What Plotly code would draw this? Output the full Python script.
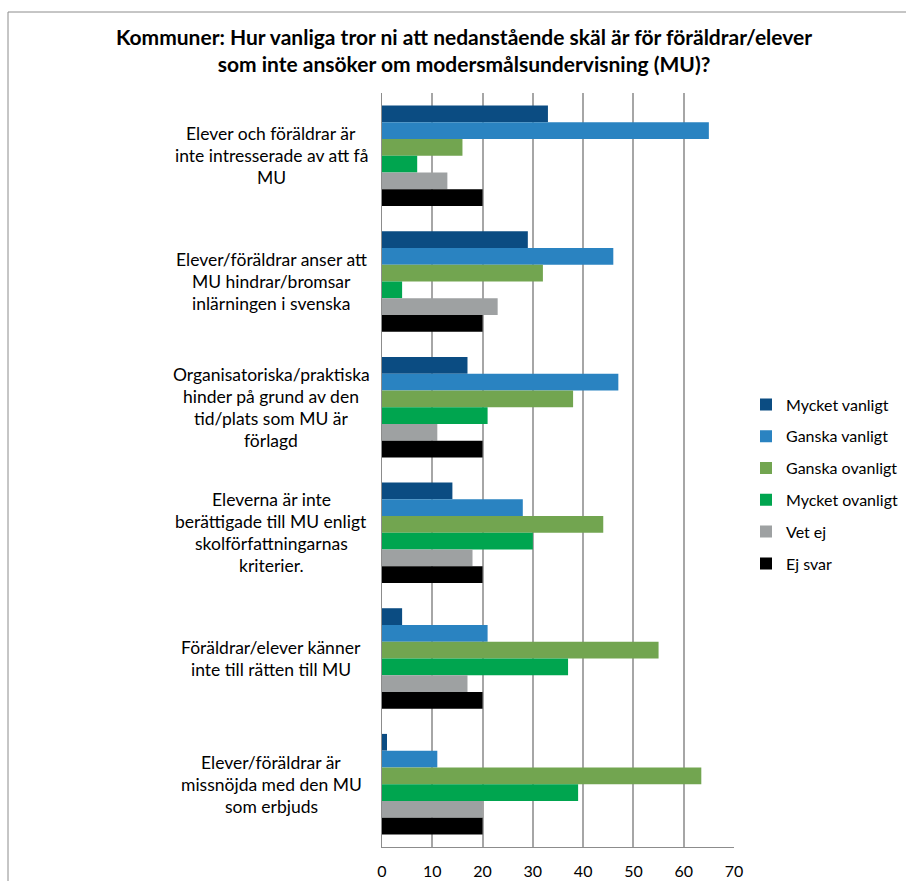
import plotly.graph_objects as go

# Survey categories (top to bottom) and their label lines
categories = [
    "Elever och föräldrar är inte intresserade av att få MU",
    "Elever/föräldrar anser att MU hindrar/bromsar inlärningen i svenska",
    "Organisatoriska/praktiska hinder på grund av den tid/plats som MU är förlagd",
    "Eleverna är inte berättigade till MU enligt skolförfattningarnas kriterier.",
    "Föräldrar/elever känner inte till rätten till MU",
    "Elever/föräldrar är missnöjda med den MU som erbjuds",
]
category_lines = [
    ["Elever och föräldrar är", "inte intresserade av att få", "MU"],
    ["Elever/föräldrar anser att", "MU hindrar/bromsar", "inlärningen i svenska"],
    ["Organisatoriska/praktiska", "hinder på grund av den", "tid/plats som MU är", "förlagd"],
    ["Eleverna är inte", "berättigade till MU enligt", "skolförfattningarnas", "kriterier."],
    ["Föräldrar/elever känner", "inte till rätten till MU"],
    ["Elever/föräldrar är", "missnöjda med den MU", "som erbjuds"],
]

series_names = ["Mycket vanligt", "Ganska vanligt", "Ganska ovanligt",
                "Mycket ovanligt", "Vet ej", "Ej svar"]
mycket_vanligt = [33, 29, 17, 14, 4, 1]
ganska_vanligt = [65, 46, 47, 28, 21, 11]
ganska_ovanligt = [16, 32, 38, 44, 55, 63.5]
mycket_ovanligt = [7, 4, 21, 30, 37, 39]
vet_ej = [13, 23, 11, 18, 17, 20]
ej_svar = [20, 20, 20, 20, 20, 20]
series_values = [mycket_vanligt, ganska_vanligt, ganska_ovanligt,
                 mycket_ovanligt, vet_ej, ej_svar]
series_colors = ["#0B4C82", "#2A83C1", "#72A550", "#00A54F", "#9EA1A2", "#000000"]

x_ticks = [0, 10, 20, 30, 40, 50, 60, 70]

FONT = "Lato"
W, H = 906, 881
L, R, T, B = 382, 172, 93, 34
PW, PH = W - L - R, H - T - B

fig = go.Figure()
for name, vals, col in zip(series_names, series_values, series_colors):
    fig.add_trace(go.Bar(
        y=categories, x=vals, name=name, orientation="h", legendgroup=name,
        marker=dict(color=col, line=dict(width=0)),
    ))

# Category labels as centred multi-line text left of the axis
LINE_H = 22
annotations = []
for cat, lines in zip(categories, category_lines):
    n = len(lines)
    for i, line in enumerate(lines):
        offset = ((n - 1) / 2 - i) * LINE_H
        annotations.append(dict(
            text=line, xref="paper", yref="y", x=(271 - L) / PW, y=cat,
            xanchor="center", yanchor="middle", yshift=offset,
            showarrow=False, font=dict(family=FONT, size=17.5, color="#000000"),
        ))

fig.update_layout(
    width=W, height=H,
    margin=dict(l=L, r=R, t=T, b=B, pad=0, autoexpand=False),
    paper_bgcolor="white", plot_bgcolor="white",
    barmode="group", bargap=0.2, bargroupgap=0,
    font=dict(family=FONT, size=16, color="#000000"),
    title=dict(
        text="<b>Kommuner: Hur vanliga tror ni att nedanstående skäl är för föräldrar/elever"
             "<br>som inte ansöker om modersmålsundervisning (MU)?</b>",
        x=464 / W, xanchor="center", y=1 - 44.5 / H, yanchor="middle",
        font=dict(family=FONT, size=21, color="#000000"),
    ),
    xaxis=dict(
        range=[0, 70], tickvals=x_ticks, showgrid=True, gridcolor="#A6A6A6",
        gridwidth=1.5, zeroline=False, showline=True, linecolor="#8C8C8C",
        linewidth=1, ticks="outside", ticklen=10, tickcolor="rgba(0,0,0,0)",
        tickfont=dict(family=FONT, size=16, color="#000000"),
    ),
    yaxis=dict(
        autorange="reversed", showticklabels=False, showgrid=False,
        zeroline=False, showline=True, linecolor="#8C8C8C", linewidth=1,
        ticks="",
    ),
    legend=dict(
        xref="container", yref="container",
        x=746 / W, xanchor="left", y=1 - 484 / H, yanchor="middle",
        font=dict(family=FONT, size=16, color="#000000"),
        itemwidth=30, tracegroupgap=8, bgcolor="rgba(0,0,0,0)",
    ),
    annotations=annotations,
    shapes=[dict(
        type="rect", xref="paper", yref="paper",
        x0=(8 - L) / PW, x1=(915 - L) / PW,
        y0=-(60) / PH, y1=(H - B - 12) / PH,
        line=dict(color="#8C8C8C", width=1), fillcolor="rgba(0,0,0,0)",
        layer="below",
    )],
)

fig.write_html("out.html")
